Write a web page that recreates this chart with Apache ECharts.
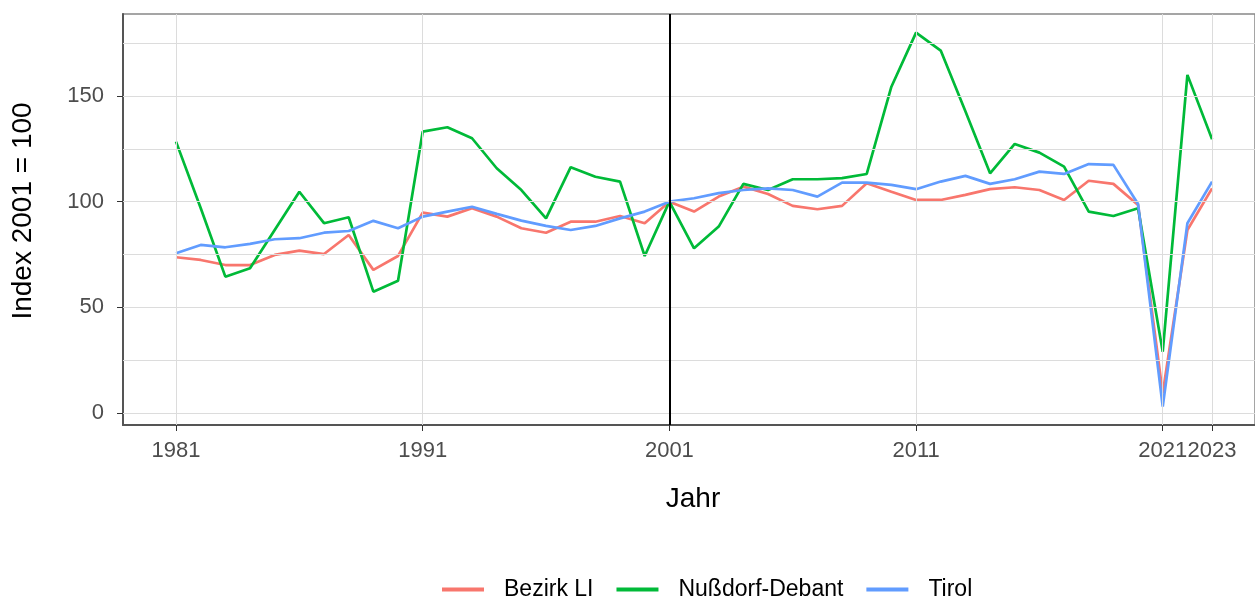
<!DOCTYPE html>
<html>
<head>
<meta charset="utf-8">
<script src="https://cdn.jsdelivr.net/npm/echarts@6/dist/echarts.min.js"></script>
<style>
  html, body { margin: 0; padding: 0; background: #fff; }
  #main { width: 1255px; height: 597px; }
</style>
</head>
<body>
<div id="main"></div>
<script>
  // Index 2001 = 100, Jahre 1981 bis 2023
  var years = [];
  for (var y = 1981; y <= 2023; y++) years.push(y);

  var bezirkLI = [73.7, 72.4, 70, 70, 74.8, 76.8, 75.2, 84.2, 67.7, 74.3,
    94.8, 92.9, 96.9, 92.9, 87.4, 85.3, 90.5, 90.5, 93.2, 89.8,
    100, 95.3, 102.4, 107.1, 103.6, 98, 96.4, 98, 108.7, 104.7,
    100.8, 100.8, 103.2, 105.9, 106.8, 105.5, 100.8, 109.9, 108.4, 98.4,
    9.3, 86.6, 106.3];
  var nussdorf = [128.4, 97, 64.5, 68.5, 86.6, 104.7, 89.8, 92.6, 57.4, 62.6,
    133.1, 135.2, 130, 115.8, 105.5, 92.1, 116.3, 111.8, 109.5, 74.3,
    100, 77.9, 88.2, 108.4, 105.5, 110.6, 110.6, 111.1, 113.1, 154.4,
    180, 171.5, 142.8, 113.4, 127.3, 123.2, 116.6, 95.3, 93.2, 96.9,
    29, 160, 129.5];
  var tirol = [75.6, 79.5, 78.4, 80, 82.2, 82.7, 85.3, 86.1, 90.9, 87.4,
    92.9, 95.3, 97.6, 94.2, 91, 88.5, 86.6, 88.5, 92.1, 95.3,
    100, 101.6, 104, 105.5, 106.3, 105.5, 102.4, 109, 109, 107.9,
    105.9, 109.5, 112.2, 108.4, 110.6, 114.2, 113.1, 117.8, 117.4, 98.9,
    3, 89.8, 109.5];

  var xTicks = [1981, 1991, 2001, 2011, 2021, 2023];
  var yTicks = [0, 50, 100, 150];
  var yGrid = [0, 25, 50, 75, 100, 125, 150, 175];

  var font = 'Liberation Sans, Arial, sans-serif';

  function pairs(vals) {
    return years.map(function (yr, i) { return [yr, vals[i]]; });
  }

  var gridLines = [];
  yGrid.forEach(function (v) { gridLines.push({ yAxis: v }); });
  xTicks.forEach(function (v) { gridLines.push({ xAxis: v }); });

  function lineSeries(name, vals, color) {
    return {
      name: name,
      type: 'line',
      data: pairs(vals),
      showSymbol: false,
      symbol: 'none',
      itemStyle: { color: color },
      lineStyle: { width: 2.7, color: color },
      z: 3
    };
  }

  var chart = echarts.init(document.getElementById('main'));
  chart.setOption({
    animation: false,
    textStyle: { fontFamily: font },
    grid: {
      left: 123, top: 14, bottom: 172, right: 0,
      show: true, borderColor: '#888', borderWidth: 1.5, backgroundColor: 'transparent'
    },
    xAxis: {
      type: 'value',
      min: 1978.851,
      max: 2024.74,
      axisLine: { show: true, onZero: false, lineStyle: { color: '#555', width: 2 } },
      axisTick: { show: true, customValues: xTicks, length: 6, lineStyle: { color: '#333' } },
      axisLabel: {
        customValues: xTicks, fontSize: 22, color: '#4d4d4d', margin: 15,
        fontFamily: font, formatter: function (v) { return String(v); }
      },
      splitLine: { show: false }
    },
    yAxis: {
      type: 'value',
      min: -5.7,
      max: 188.8,
      axisLine: { show: true, onZero: false, lineStyle: { color: '#555', width: 2 } },
      axisTick: { show: true, customValues: yTicks, length: 6, lineStyle: { color: '#333' } },
      axisLabel: { customValues: yTicks, fontSize: 22, color: '#4d4d4d', margin: 19, fontFamily: font },
      splitLine: { show: false }
    },
    legend: {
      data: ['Bezirk LI', 'Nußdorf-Debant', 'Tirol'],
      left: 437,
      top: 573,
      icon: 'rect',
      itemWidth: 42,
      itemHeight: 4,
      itemGap: 23,
      textStyle: { fontSize: 23, color: '#000', fontFamily: font, padding: [0, 0, 0, 15] }
    },
    graphic: [
      {
        type: 'text', x: 23, y: 211, rotation: Math.PI / 2,
        style: { text: 'Index 2001 = 100', fontSize: 28, fontFamily: font, fill: '#000', align: 'center', verticalAlign: 'middle' }
      },
      {
        type: 'text', x: 693, y: 499,
        style: { text: 'Jahr', fontSize: 28, fontFamily: font, fill: '#000', align: 'center', verticalAlign: 'middle' }
      }
    ],
    series: [
      {
        name: 'grid',
        type: 'line',
        data: [],
        z: 1,
        silent: true,
        markLine: {
          silent: true,
          symbol: 'none',
          label: { show: false },
          lineStyle: { color: '#dcdcdc', width: 1, type: 'solid' },
          emphasis: { disabled: true },
          data: gridLines.concat([{ xAxis: 2001, lineStyle: { color: '#000', width: 2 } }])
        }
      },
      lineSeries('Bezirk LI', bezirkLI, '#F8766D'),
      lineSeries('Nußdorf-Debant', nussdorf, '#00BA38'),
      lineSeries('Tirol', tirol, '#619CFF')
    ]
  });
</script>
</body>
</html>
